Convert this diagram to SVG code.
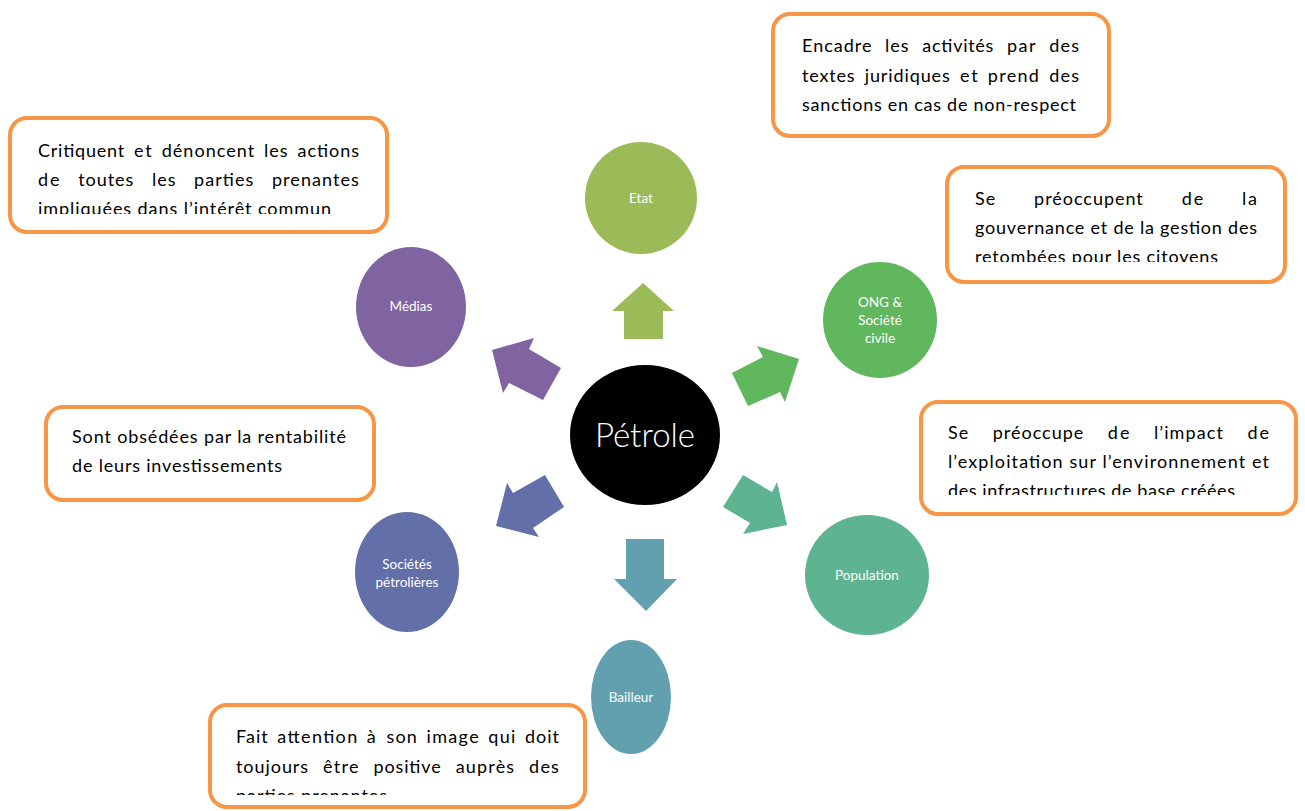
<svg xmlns="http://www.w3.org/2000/svg" width="1305" height="811" viewBox="0 0 1305 811">
<style>
.box{fill:#FFFFFF;stroke:#F79646;stroke-width:4}
.t{font-family:Lato,"Liberation Sans",sans-serif;font-size:18px;fill:#000000}
.lbl{font-family:Lato,"Liberation Sans",sans-serif;font-size:13.5px;fill:#FFFFFF;text-anchor:middle}
</style>
<defs>
<clipPath id="c1"><rect x="0" y="100" width="400" height="114"/></clipPath>
<clipPath id="c3"><rect x="930" y="150" width="370" height="112"/></clipPath>
<clipPath id="c4"><rect x="900" y="390" width="405" height="105"/></clipPath>
<clipPath id="c6"><rect x="200" y="690" width="400" height="105"/></clipPath>
</defs>
<rect width="1305" height="811" fill="#FFFFFF"/>

<g id="connectors">
<polygon points="624,339 624,311 612,311 643,283 674,311 663,311 663,339" fill="#9BBB59"/>
<polygon points="492,350 534,338 529,349 561,368 543,400 509,383 503,393" fill="#8064A2"/>
<polygon points="799,359 757,346 763,357 732,373 748,406 780,392 785,402" fill="#60B75E"/>
<polygon points="496,526 507,483 513,493 545,475 564,507 533,528 539,537" fill="#636FA9"/>
<polygon points="787,525 777,482 772,492 743,475 723,507 750,523 743,534" fill="#5EB391"/>
<polygon points="626,539 664,539 664,579 677,579 646,611 614,579 626,579" fill="#62A0B0"/>
</g>

<g id="node-petrole">
<ellipse cx="645" cy="435" rx="75" ry="70" fill="#000000"/>
<text x="645" y="447" font-family="Lato,'Liberation Sans',sans-serif" font-size="33" fill="#FFFFFF" text-anchor="middle" font-weight="300">Pétrole</text>
</g>
<g id="node-etat">
<ellipse cx="641" cy="198" rx="56" ry="56" fill="#9BBB59"/>
<text class="lbl" x="641" y="203">Etat</text>
</g>
<g id="node-medias">
<ellipse cx="411" cy="307" rx="55" ry="60" fill="#8064A2"/>
<text class="lbl" x="411" y="311">Médias</text>
</g>
<g id="node-ong">
<ellipse cx="880" cy="320" rx="57" ry="58" fill="#60B75E"/>
<text class="lbl" x="880" y="307">ONG &amp;</text>
<text class="lbl" x="880" y="325">Société</text>
<text class="lbl" x="880" y="343">civile</text>
</g>
<g id="node-population">
<ellipse cx="867" cy="575" rx="62" ry="60" fill="#5EB391"/>
<text class="lbl" x="867" y="580">Population</text>
</g>
<g id="node-societes">
<ellipse cx="407" cy="572" rx="52" ry="60" fill="#636FA9"/>
<text class="lbl" x="407" y="569">Sociétés</text>
<text class="lbl" x="407" y="587">pétrolières</text>
</g>
<g id="node-bailleur">
<ellipse cx="631" cy="697" rx="40" ry="57" fill="#62A0B0"/>
<text class="lbl" x="631" y="702">Bailleur</text>
</g>

<g id="note-medias">
<rect class="box" x="10" y="118" width="377" height="114" rx="17"/>
<g clip-path="url(#c1)">
<text class="t" x="38" y="157" textLength="86.2">Critiquent</text>
<text class="t" x="134.1" y="157" textLength="17.6">et</text>
<text class="t" x="161.7" y="157" textLength="92.4">dénoncent</text>
<text class="t" x="264" y="157" textLength="23.6">les</text>
<text class="t" x="297.6" y="157" textLength="61.4">actions</text>
<text class="t" x="38" y="186" textLength="21.6">de</text>
<text class="t" x="78.2" y="186" textLength="55.1">toutes</text>
<text class="t" x="151.9" y="186" textLength="23.6">les</text>
<text class="t" x="194.1" y="186" textLength="59.2">parties</text>
<text class="t" x="271.9" y="186" textLength="87">prenantes</text>
<text class="t" x="38" y="215" textLength="293">impliquées dans l’intérêt commun</text>
</g>
</g>

<g id="note-etat">
<rect class="box" x="773" y="14" width="336" height="122" rx="17"/>
<text class="t" x="802" y="52" textLength="69.4">Encadre</text>
<text class="t" x="885" y="52" textLength="23.6">les</text>
<text class="t" x="922.3" y="52" textLength="71.1">activités</text>
<text class="t" x="1007" y="52" textLength="28.5">par</text>
<text class="t" x="1049.2" y="52" textLength="29.8">des</text>
<text class="t" x="802" y="82" textLength="52.5">textes</text>
<text class="t" x="864.7" y="82" textLength="85.1">juridiques</text>
<text class="t" x="960" y="82" textLength="17.6">et</text>
<text class="t" x="987.8" y="82" textLength="51.1">prend</text>
<text class="t" x="1049.2" y="82" textLength="29.8">des</text>
<text class="t" x="802" y="111" textLength="274">sanctions en cas de non-respect</text>
</g>

<g id="note-ong">
<rect class="box" x="947" y="167" width="338" height="115" rx="17"/>
<g clip-path="url(#c3)">
<text class="t" x="975" y="205" textLength="20.2">Se</text>
<text class="t" x="1034.1" y="205" textLength="108.7">préoccupent</text>
<text class="t" x="1181.7" y="205" textLength="21.6">de</text>
<text class="t" x="1242.1" y="205" textLength="14.9">la</text>
<text class="t" x="975" y="234" textLength="282">gouvernance et de la gestion des</text>
<text class="t" x="975" y="263" textLength="243">retombées pour les citoyens</text>
</g>
</g>

<g id="note-population">
<rect class="box" x="921" y="402" width="375" height="112" rx="17"/>
<g clip-path="url(#c4)">
<text class="t" x="948" y="439" textLength="20.2">Se</text>
<text class="t" x="992.7" y="439" textLength="90.6">préoccupe</text>
<text class="t" x="1107.8" y="439" textLength="21.6">de</text>
<text class="t" x="1153.9" y="439" textLength="69">l’impact</text>
<text class="t" x="1247.4" y="439" textLength="21.6">de</text>
<text class="t" x="948" y="468" textLength="321">l’exploitation sur l’environnement et</text>
<text class="t" x="948" y="497" textLength="287">des infrastructures de base créées</text>
</g>
</g>

<g id="note-societes">
<rect class="box" x="46" y="407" width="328" height="93" rx="17"/>
<text class="t" x="72" y="443" textLength="274">Sont obsédées par la rentabilité</text>
<text class="t" x="72" y="472" textLength="210">de leurs investissements</text>
</g>

<g id="note-bailleur">
<rect class="box" x="210" y="705" width="375" height="102" rx="17"/>
<g clip-path="url(#c6)">
<text class="t" x="236" y="743" textLength="31.7">Fait</text>
<text class="t" x="277.3" y="743" textLength="79.9">attention</text>
<text class="t" x="366.8" y="743">à</text>
<text class="t" x="386.5" y="743" textLength="30.4">son</text>
<text class="t" x="426.5" y="743" textLength="52.2">image</text>
<text class="t" x="488.3" y="743" textLength="27">qui</text>
<text class="t" x="524.9" y="743" textLength="34.1">doit</text>
<text class="t" x="236" y="773" textLength="72.1">toujours</text>
<text class="t" x="323.1" y="773" textLength="35.4">être</text>
<text class="t" x="373.5" y="773" textLength="67.2">positive</text>
<text class="t" x="455.7" y="773" textLength="58.4">auprès</text>
<text class="t" x="529.1" y="773" textLength="29.8">des</text>
<text class="t" x="236" y="802" textLength="151">parties prenantes</text>
</g>
</g>
</svg>
